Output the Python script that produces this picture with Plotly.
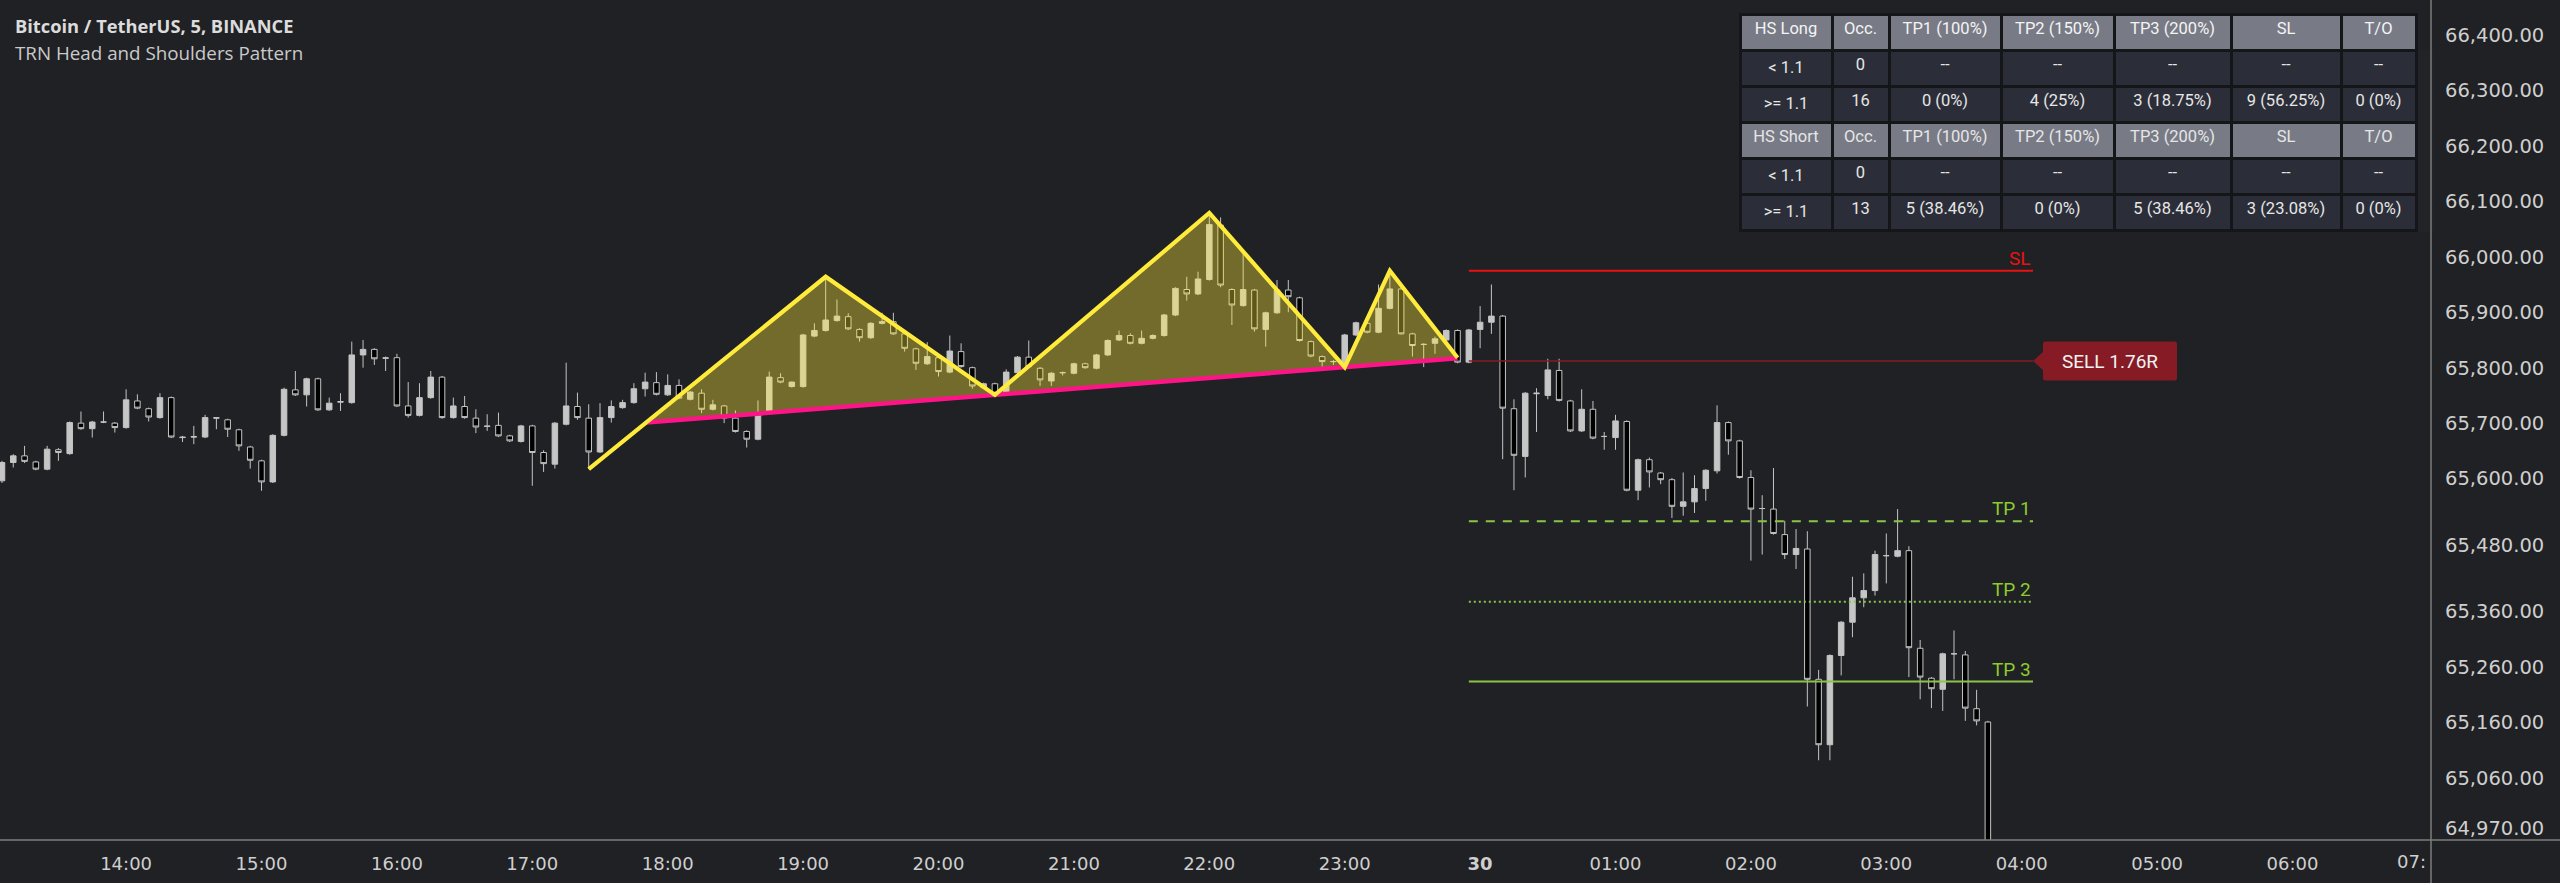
import pandas as pd
import plotly.graph_objects as go

# ---------------- data ----------------
FIRST_BAR = "2024-09-29 13:05"
BAR_MINUTES = 5

opens = [65596, 65629, 65641, 65630, 65617, 65652, 65645, 65700, 65690, 65702,
         65700, 65692, 65740, 65726, 65710, 65746, 65675, 65676, 65675, 65710,
         65706, 65688, 65657, 65632, 65594, 65678, 65760, 65751, 65780, 65724,
         65739, 65737, 65823, 65833, 65818, 65818, 65731, 65714, 65746, 65783,
         65710, 65730, 65709, 65695, 65696, 65677, 65667, 65695, 65647, 65626,
         65698, 65730, 65709, 65648, 65710, 65728, 65737, 65762, 65773, 65751,
         65768, 65743, 65754, 65725, 65731, 65709, 65685, 65671, 65718, 65782,
         65766, 65766, 65857, 65867, 65885, 65892, 65869, 65854, 65880, 65883,
         65861, 65834, 65807, 65818, 65792, 65829, 65800, 65764, 65771, 65757,
         65791, 65819, 65799, 65776, 65791, 65790, 65807, 65799, 65823, 65850,
         65858, 65844, 65853, 65858, 65895, 65941, 65933, 65959, 66057, 65941,
         65912, 65940, 65869, 65899, 65940, 65926, 65847, 65820, 65811, 65802,
         65859, 65880, 65864, 65907, 65942, 65861, 65842, 65844, 65850, 65867,
         65810, 65869, 65882, 65893, 65726, 65640, 65753, 65750, 65795, 65740,
         65686, 65725, 65676, 65674, 65703, 65579, 65634, 65610, 65598, 65550,
         65558, 65582, 65614, 65701, 65668, 65602, 65546, 65545, 65499, 65463,
         65473, 65238, 65120, 65281, 65341, 65385, 65398, 65461, 65460, 65470,
         65294, 65240, 65220, 65284, 65282, 65185, 65161]
highs = [65632, 65644, 65659, 65632, 65659, 65655, 65703, 65721, 65704, 65721,
         65702, 65761, 65752, 65728, 65754, 65748, 65677, 65695, 65715, 65711,
         65708, 65690, 65659, 65634, 65680, 65764, 65794, 65782, 65782, 65746,
         65754, 65847, 65850, 65835, 65820, 65825, 65774, 65772, 65794, 65785,
         65746, 65749, 65725, 65716, 65719, 65679, 65697, 65697, 65651, 65702,
         65809, 65755, 65734, 65736, 65741, 65742, 65772, 65791, 65792, 65788,
         65779, 65758, 65761, 65742, 65733, 65723, 65687, 65741, 65793, 65790,
         65775, 65861, 65880, 65964, 65923, 65898, 65871, 65882, 65899, 65899,
         65863, 65836, 65846, 65820, 65858, 65844, 65802, 65773, 65773, 65797,
         65821, 65849, 65801, 65792, 65793, 65809, 65809, 65825, 65851, 65867,
         65862, 65867, 65860, 65897, 65945, 65964, 65973, 66078, 66071, 65943,
         66005, 65942, 65901, 65958, 65958, 65928, 65849, 65822, 65814, 65861,
         65883, 65882, 65950, 65975, 65947, 65863, 65844, 65856, 65869, 65869,
         65870, 65911, 65950, 65895, 65743, 65756, 65763, 65816, 65816, 65742,
         65761, 65740, 65684, 65715, 65705, 65636, 65638, 65612, 65601, 65611,
         65606, 65617, 65732, 65703, 65670, 65615, 65570, 65619, 65524, 65509,
         65505, 65255, 65283, 65343, 65423, 65429, 65470, 65501, 65545, 65478,
         65309, 65242, 65286, 65326, 65289, 65219, 65163]
lows = [65592, 65620, 65628, 65615, 65615, 65632, 65643, 65688, 65674, 65700,
        65683, 65690, 65725, 65703, 65708, 65673, 65666, 65662, 65673, 65689,
        65675, 65650, 65618, 65578, 65592, 65676, 65749, 65730, 65722, 65722,
        65722, 65735, 65800, 65805, 65794, 65729, 65710, 65712, 65744, 65708,
        65708, 65708, 65682, 65686, 65675, 65666, 65665, 65587, 65612, 65618,
        65696, 65706, 65617, 65646, 65701, 65726, 65735, 65748, 65750, 65749,
        65743, 65741, 65718, 65723, 65700, 65683, 65656, 65669, 65716, 65772,
        65764, 65764, 65855, 65865, 65883, 65868, 65847, 65852, 65878, 65859,
        65829, 65796, 65805, 65784, 65790, 65800, 65762, 65762, 65750, 65755,
        65789, 65800, 65767, 65767, 65786, 65788, 65798, 65797, 65821, 65848,
        65842, 65842, 65851, 65856, 65893, 65921, 65931, 65957, 65945, 65877,
        65910, 65865, 65838, 65897, 65900, 65847, 65819, 65802, 65805, 65800,
        65857, 65862, 65862, 65905, 65860, 65820, 65801, 65825, 65848, 65808,
        65808, 65835, 65861, 65635, 65579, 65602, 65684, 65743, 65739, 65684,
        65684, 65671, 65652, 65652, 65577, 65561, 65584, 65590, 65529, 65533,
        65538, 65560, 65609, 65643, 65600, 65452, 65463, 65499, 65455, 65437,
        65189, 65092, 65092, 65245, 65314, 65368, 65389, 65411, 65458, 65242,
        65202, 65186, 65181, 65238, 65163, 65155, 64900]
closes = [65629, 65641, 65631, 65617, 65653, 65647, 65701, 65690, 65702, 65702,
          65692, 65742, 65727, 65711, 65746, 65675, 65674, 65675, 65710, 65709,
          65689, 65659, 65633, 65594, 65678, 65761, 65751, 65780, 65724, 65736,
          65738, 65823, 65833, 65816, 65817, 65731, 65714, 65746, 65783, 65710,
          65731, 65710, 65693, 65694, 65677, 65668, 65695, 65647, 65627, 65700,
          65731, 65710, 65648, 65710, 65730, 65737, 65762, 65774, 65752, 65768,
          65745, 65756, 65725, 65733, 65709, 65685, 65671, 65718, 65783, 65774,
          65774, 65859, 65867, 65886, 65893, 65870, 65854, 65880, 65883, 65861,
          65835, 65808, 65820, 65793, 65830, 65802, 65767, 65771, 65754, 65792,
          65819, 65802, 65778, 65790, 65791, 65807, 65800, 65823, 65849, 65858,
          65844, 65853, 65858, 65895, 65943, 65933, 65960, 66058, 65949, 65913,
          65941, 65870, 65899, 65940, 65928, 65849, 65821, 65811, 65811, 65859,
          65881, 65864, 65907, 65942, 65861, 65840, 65842, 65852, 65867, 65810,
          65868, 65882, 65893, 65727, 65642, 65754, 65754, 65796, 65741, 65686,
          65725, 65673, 65676, 65704, 65579, 65634, 65612, 65598, 65550, 65558,
          65582, 65615, 65701, 65668, 65602, 65545, 65546, 65501, 65463, 65474,
          65238, 65120, 65281, 65341, 65385, 65398, 65463, 65461, 65470, 65295,
          65242, 65221, 65284, 65284, 65186, 65163, 64920]

# head & shoulders pivots: start, left shoulder, neck 1, head, neck 2, right shoulder, end
pattern_times = ["2024-09-29 17:25", "2024-09-29 19:10", "2024-09-29 20:25",
                 "2024-09-29 22:00", "2024-09-29 23:00", "2024-09-29 23:20",
                 "2024-09-29 23:50"]
pattern_prices = [65617, 65964, 65751, 66079, 65801, 65975, 65818]

# trade levels
entry_price = 65812
sl_price = 65975
tp1_price = 65523
tp2_price = 65378
tp3_price = 65234
level_start = "2024-09-29 23:55"
level_end = "2024-09-30 04:05"
signal_text = "SELL 1.76R"

# axes
x_range = ["2024-09-29 13:04:07", "2024-09-30 07:01:22"]
y_range = [64948.2, 66463.1]
x_tick_vals = ["2024-09-29 14:00", "2024-09-29 15:00", "2024-09-29 16:00", "2024-09-29 17:00",
               "2024-09-29 18:00", "2024-09-29 19:00", "2024-09-29 20:00", "2024-09-29 21:00",
               "2024-09-29 22:00", "2024-09-29 23:00", "2024-09-30 00:00", "2024-09-30 01:00",
               "2024-09-30 02:00", "2024-09-30 03:00", "2024-09-30 04:00", "2024-09-30 05:00",
               "2024-09-30 06:00"]
x_tick_text = ["14:00", "15:00", "16:00", "17:00", "18:00", "19:00", "20:00", "21:00",
               "22:00", "23:00", "<b>30</b>", "01:00", "02:00", "03:00", "04:00", "05:00",
               "06:00"]
clipped_tick_val = "2024-09-30 07:00"
clipped_tick_text = "07:"
y_tick_vals = [66400, 66300, 66200, 66100, 66000, 65900, 65800, 65700, 65600,
               65480, 65360, 65260, 65160, 65060, 64970]

# statistics table
tbl_head_long = ["HS Long", "Occ.", "TP1 (100%)", "TP2 (150%)", "TP3 (200%)", "SL", "T/O"]
tbl_long_lt = ["< 1.1", "0", "--", "--", "--", "--", "--"]
tbl_long_ge = [">= 1.1", "16", "0 (0%)", "4 (25%)", "3 (18.75%)", "9 (56.25%)", "0 (0%)"]
tbl_head_short = ["HS Short", "Occ.", "TP1 (100%)", "TP2 (150%)", "TP3 (200%)", "SL", "T/O"]
tbl_short_lt = ["< 1.1", "0", "--", "--", "--", "--", "--"]
tbl_short_ge = [">= 1.1", "13", "5 (38.46%)", "0 (0%)", "5 (38.46%)", "3 (23.08%)", "0 (0%)"]

# ---------------- styles ----------------
BG = "#202124"
AXIS_LINE = "#7d7d7d"
TICK_COLOR = "#cfcfcf"
CANDLE_LINE = "#c4c4c4"
YELLOW = "#ffeb3b"
PINK = "#ff1488"
GREEN = "#8bc34a"
GREEN_TXT = "#8ccc2e"
RED = "#e81212"
DARK_RED = "#861b25"
HDR_FILL = "#787b86"
CELL_FILL = "#2b2e38"
CELL_LINE = "#151619"

PLOT_W, PLOT_H = 2431, 840
FIG_W, FIG_H = 2560, 883

times = pd.date_range(FIRST_BAR, periods=len(opens), freq=f"{BAR_MINUTES}min")

fig = go.Figure()

# --- pattern fill between zig-zag and neckline ---
pt = [pd.Timestamp(t) for t in pattern_times]
def mins(t):
    return (t - pt[0]).total_seconds() / 60.0
n_slope = (pattern_prices[4] - pattern_prices[2]) / (mins(pt[4]) - mins(pt[2]))
def neck(m):
    return pattern_prices[2] + n_slope * (m - mins(pt[2]))
leg_slope = (pattern_prices[1] - pattern_prices[0]) / (mins(pt[1]) - mins(pt[0]))
# intersection of first leg with the neckline
m_int = (neck(0) - pattern_prices[0]) / (leg_slope - n_slope)
t_int = pt[0] + pd.Timedelta(minutes=m_int)
p_int = pattern_prices[0] + leg_slope * m_int

poly_x = [t_int] + pt[1:] + [t_int]
poly_y = [p_int] + pattern_prices[1:] + [p_int]
fig.add_trace(go.Scatter(x=poly_x, y=poly_y, mode="lines", fill="toself",
                         fillcolor="rgba(255,235,59,0.37)", line=dict(width=0),
                         hoverinfo="skip", showlegend=False))

# --- candles ---
fig.add_trace(go.Candlestick(
    x=times, open=opens, high=highs, low=lows, close=closes,
    increasing=dict(fillcolor="#c6c6c6", line=dict(color=CANDLE_LINE, width=1)),
    decreasing=dict(fillcolor="#000000", line=dict(color=CANDLE_LINE, width=1)),
    whiskerwidth=0, showlegend=False, hoverinfo="skip"))

# --- neckline and zig-zag ---
fig.add_trace(go.Scatter(x=[t_int, pt[-1]], y=[p_int, neck(mins(pt[-1]))], mode="lines",
                         line=dict(color=PINK, width=4.5), hoverinfo="skip", showlegend=False))
fig.add_trace(go.Scatter(x=pt, y=pattern_prices, mode="lines",
                         line=dict(color=YELLOW, width=4.2), hoverinfo="skip", showlegend=False))

# --- trade levels ---
levels = [
    (sl_price, RED, 2, "solid", "SL", RED),
    (entry_price, DARK_RED, 1.5, "solid", None, None),
    (tp1_price, GREEN, 2, "9px,8px", "TP 1", GREEN_TXT),
    (tp2_price, GREEN, 2, "2px,3px", "TP 2", GREEN_TXT),
    (tp3_price, GREEN, 2, "solid", "TP 3", GREEN_TXT),
]
for price, col, w, dash, label, tcol in levels:
    fig.add_shape(type="line", xref="x", yref="y", x0=level_start, x1=level_end,
                  y0=price, y1=price, line=dict(color=col, width=w, dash=dash))
    if label:
        fig.add_annotation(x=level_end, y=price, xref="x", yref="y", text=label,
                           showarrow=False, xanchor="right", yanchor="bottom", yshift=-1,
                           font=dict(family="Roboto", size=19, color=tcol))

# signal label with notch
fig.add_shape(type="path", xref="x", yref="y", xsizemode="pixel", ysizemode="pixel",
              xanchor=level_end, yanchor=entry_price,
              path="M0,0 L10,9 L10,17 Q10,19.5 12.5,19.5 L141.5,19.5 Q144,19.5 144,17 "
                   "L144,-17 Q144,-19.5 141.5,-19.5 L12.5,-19.5 Q10,-19.5 10,-17 L10,-9 Z",
              fillcolor=DARK_RED, line=dict(width=0), layer="above")
fig.add_annotation(x=level_end, y=entry_price, xref="x", yref="y", text=signal_text,
                   showarrow=False, xanchor="center", yanchor="middle", xshift=77,
                   font=dict(family="Roboto", size=19, color="#f2f2f2"))

# --- statistics table ---
rows = [tbl_long_lt, tbl_long_ge, tbl_head_short, tbl_short_lt, tbl_short_ge]
row_fill = [CELL_FILL, CELL_FILL, HDR_FILL, CELL_FILL, CELL_FILL]
cols = [[r[c] for r in rows] for c in range(len(tbl_head_long))]
fig.add_trace(go.Table(
    domain=dict(x=[1740 / PLOT_W, 2416 / PLOT_W], y=[1 - 233 / PLOT_H, 1 - 14 / PLOT_H]),
    columnwidth=[92, 57, 112, 113, 117, 110, 75],
    header=dict(values=tbl_head_long, fill_color=HDR_FILL, align="center", height=36,
                line=dict(color=CELL_LINE, width=3),
                font=dict(family="Roboto", size=16.5, color="#f4f4f4")),
    cells=dict(values=cols, fill_color=[row_fill] * len(cols), align="center", height=36,
               line=dict(color=CELL_LINE, width=3),
               font=dict(family="Roboto", size=16.5, color="#e6e6e6"))))

# --- header texts ---
fig.add_annotation(xref="paper", yref="paper", x=13 / PLOT_W, y=1 - 25 / PLOT_H,
                   xanchor="left", yanchor="middle", showarrow=False,
                   text="<b>Bitcoin / TetherUS, 5, BINANCE</b>",
                   font=dict(family="Open Sans", size=18.3, color="#dcdcdc"))
fig.add_annotation(xref="paper", yref="paper", x=13 / PLOT_W, y=1 - 53 / PLOT_H,
                   xanchor="left", yanchor="middle", showarrow=False,
                   text="TRN Head and Shoulders Pattern",
                   font=dict(family="Open Sans", size=18.8, color="#cacaca"))

# clipped last time label
fig.add_annotation(x=clipped_tick_val, xref="x", yref="paper", y=0, yshift=-21,
                   xanchor="right", yanchor="middle", showarrow=False, text=clipped_tick_text,
                   font=dict(family="DejaVu Sans", size=18, color=TICK_COLOR))

# price-scale separators
fig.add_shape(type="line", xref="paper", yref="paper", x0=0, x1=FIG_W / PLOT_W, y0=0, y1=0,
              line=dict(color=AXIS_LINE, width=1.5))
fig.add_shape(type="line", xref="paper", yref="paper", x0=1, x1=1, y0=-(FIG_H - PLOT_H) / PLOT_H,
              y1=1, line=dict(color=AXIS_LINE, width=1.5))

fig.update_layout(
    width=FIG_W, height=FIG_H,
    margin=dict(l=0, r=FIG_W - PLOT_W, t=0, b=FIG_H - PLOT_H, autoexpand=False),
    paper_bgcolor=BG, plot_bgcolor=BG, showlegend=False, hovermode=False,
    xaxis=dict(type="date", range=x_range, showgrid=False, zeroline=False, showline=False,
               tickvals=x_tick_vals, ticktext=x_tick_text, ticks="", ticklabelstandoff=11,
               tickfont=dict(family="DejaVu Sans", size=18, color=TICK_COLOR),
               rangeslider=dict(visible=False), fixedrange=True),
    yaxis=dict(range=y_range, side="right", showgrid=False, zeroline=False, showline=False,
               tickvals=y_tick_vals, ticktext=[f"{v:,.2f}" for v in y_tick_vals],
               ticks="", ticklabelstandoff=13,
               tickfont=dict(family="DejaVu Sans", size=19.5, color=TICK_COLOR), fixedrange=True),
)

fig.write_html("out.html", config=dict(displayModeBar=False),
               post_script="document.body.style.margin='0';document.body.style.overflow='hidden';")
